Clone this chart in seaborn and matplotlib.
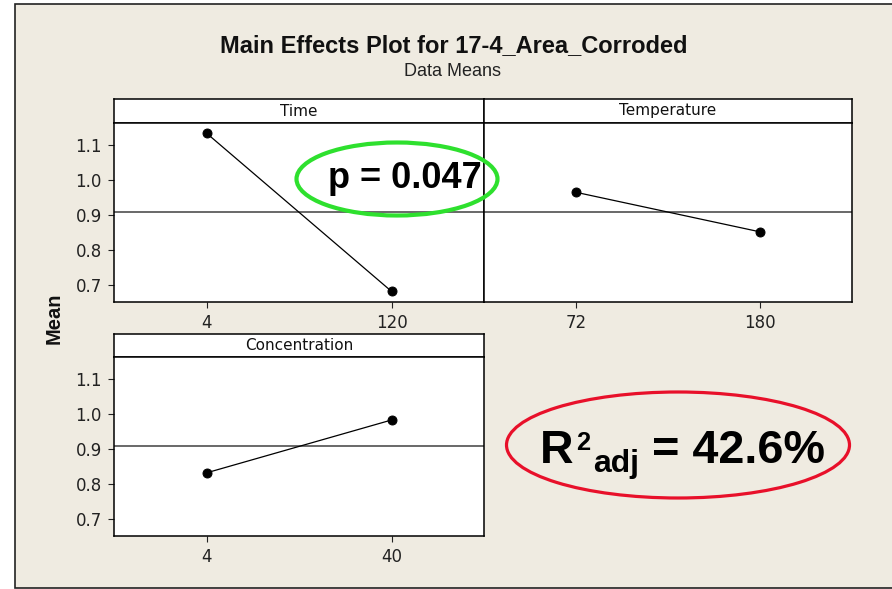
import matplotlib
matplotlib.use('Agg')
import matplotlib.pyplot as plt
import seaborn as sns
from matplotlib.patches import Ellipse, Rectangle

# values
time_levels = ['4', '120']
time_means = [1.133, 0.681]
temp_levels = ['72', '180']
temp_means = [0.964, 0.851]
conc_levels = ['4', '40']
conc_means = [0.831, 0.982]
grand_mean = 0.908
y_ticks = [0.7, 0.8, 0.9, 1.0, 1.1]

W, H = 892, 589
BG = '#EFEBE1'
BOLD_FONT = 'Liberation Sans'


def fx(px):
    return px / W


def fy(py):
    return 1 - py / H


def main_effect_panel(fig, left, right, top, head_h, bottom, factor, levels, means, show_y=True):
    # header strip with the factor name
    hax = fig.add_axes([fx(left), fy(top + head_h), (right - left) / W, head_h / H])
    hax.set_xticks([])
    hax.set_yticks([])
    hax.set_facecolor('white')
    for s in hax.spines.values():
        s.set_linewidth(1.1)
        s.set_color('black')
    hax.text(0.5, 0.5, factor, ha='center', va='center', fontsize=11, color='#111')

    ax = fig.add_axes([fx(left), fy(bottom), (right - left) / W, (bottom - top - head_h) / H])
    ax.axhline(grand_mean, color='#404040', lw=1.1, zorder=1)
    sns.pointplot(x=levels, y=means, ax=ax, color='black', markers='o', errorbar=None,
                  markersize=6.5, linewidth=0.9)
    ax.set_xlim(-0.5, 1.5)
    ax.set_ylim(0.652, 1.162)
    ax.set_yticks(y_ticks)
    ax.set_yticklabels([f'{t:.1f}' for t in y_ticks])
    ax.set_xlabel('')
    ax.set_ylabel('')
    ax.set_facecolor('white')
    for s in ax.spines.values():
        s.set_linewidth(1.1)
        s.set_color('black')
    ax.tick_params(direction='out', length=4.3, width=0.8, pad=4.5, labelsize=12,
                   colors='#222', bottom=True, left=show_y, labelleft=show_y)
    return ax


sns.set_theme(style='white')
plt.rcParams['font.family'] = ['DejaVu Sans']

fig = plt.figure(figsize=(W / 100, H / 100), dpi=100, facecolor='white')

# beige backdrop with its frame
fig.add_artist(Rectangle((fx(15), fy(588)), 2, (588 - 4) / H, transform=fig.transFigure,
                         facecolor=BG, edgecolor='#222', lw=1.2, zorder=-10))

fig.text(fx(454), fy(46), 'Main Effects Plot for 17-4_Area_Corroded', ha='center', va='center',
         fontsize=17, fontweight='bold', family=BOLD_FONT, color='#111')
fig.text(fx(453), fy(72), 'Data Means', ha='center', va='center', fontsize=13,
         family=BOLD_FONT, color='#222')

main_effect_panel(fig, 114, 484, 99, 24, 301.5, 'Time', time_levels, time_means)
main_effect_panel(fig, 484, 852, 99, 24, 301.5, 'Temperature', temp_levels, temp_means, show_y=False)
main_effect_panel(fig, 114, 484, 334, 23, 535.5, 'Concentration', conc_levels, conc_means)

fig.text(fx(54), fy(318), 'Mean', rotation=90, ha='center', va='center', fontsize=14.5,
         fontweight='bold', family=BOLD_FONT, color='#111')

# annotations
fig.add_artist(Ellipse((fx(397), fy(179)), 201 / W, 73 / H, transform=fig.transFigure,
                       fill=False, edgecolor='#2EE02E', lw=3, zorder=5))
fig.text(fx(404.5), fy(188), 'p = 0.047', ha='center', va='baseline', fontsize=26,
         fontweight='bold', family=BOLD_FONT, color='black', zorder=6)

fig.add_artist(Ellipse((fx(678), fy(445)), 343 / W, 106 / H, transform=fig.transFigure,
                       fill=False, edgecolor='#E8102A', lw=2.3, zorder=5))
bold_kw = dict(ha='left', va='baseline', fontweight='bold', family=BOLD_FONT, color='black', zorder=6)
fig.text(fx(540), fy(462.7), 'R', fontsize=33.5, **bold_kw)
fig.text(fx(576), fy(450), '2', fontsize=18.4, **bold_kw)
fig.text(fx(593), fy(472), 'adj', fontsize=23, **bold_kw)
fig.text(fx(652), fy(462.7), '= 42.6%', fontsize=33.7, **bold_kw)

fig.savefig('out.png', dpi=100)
